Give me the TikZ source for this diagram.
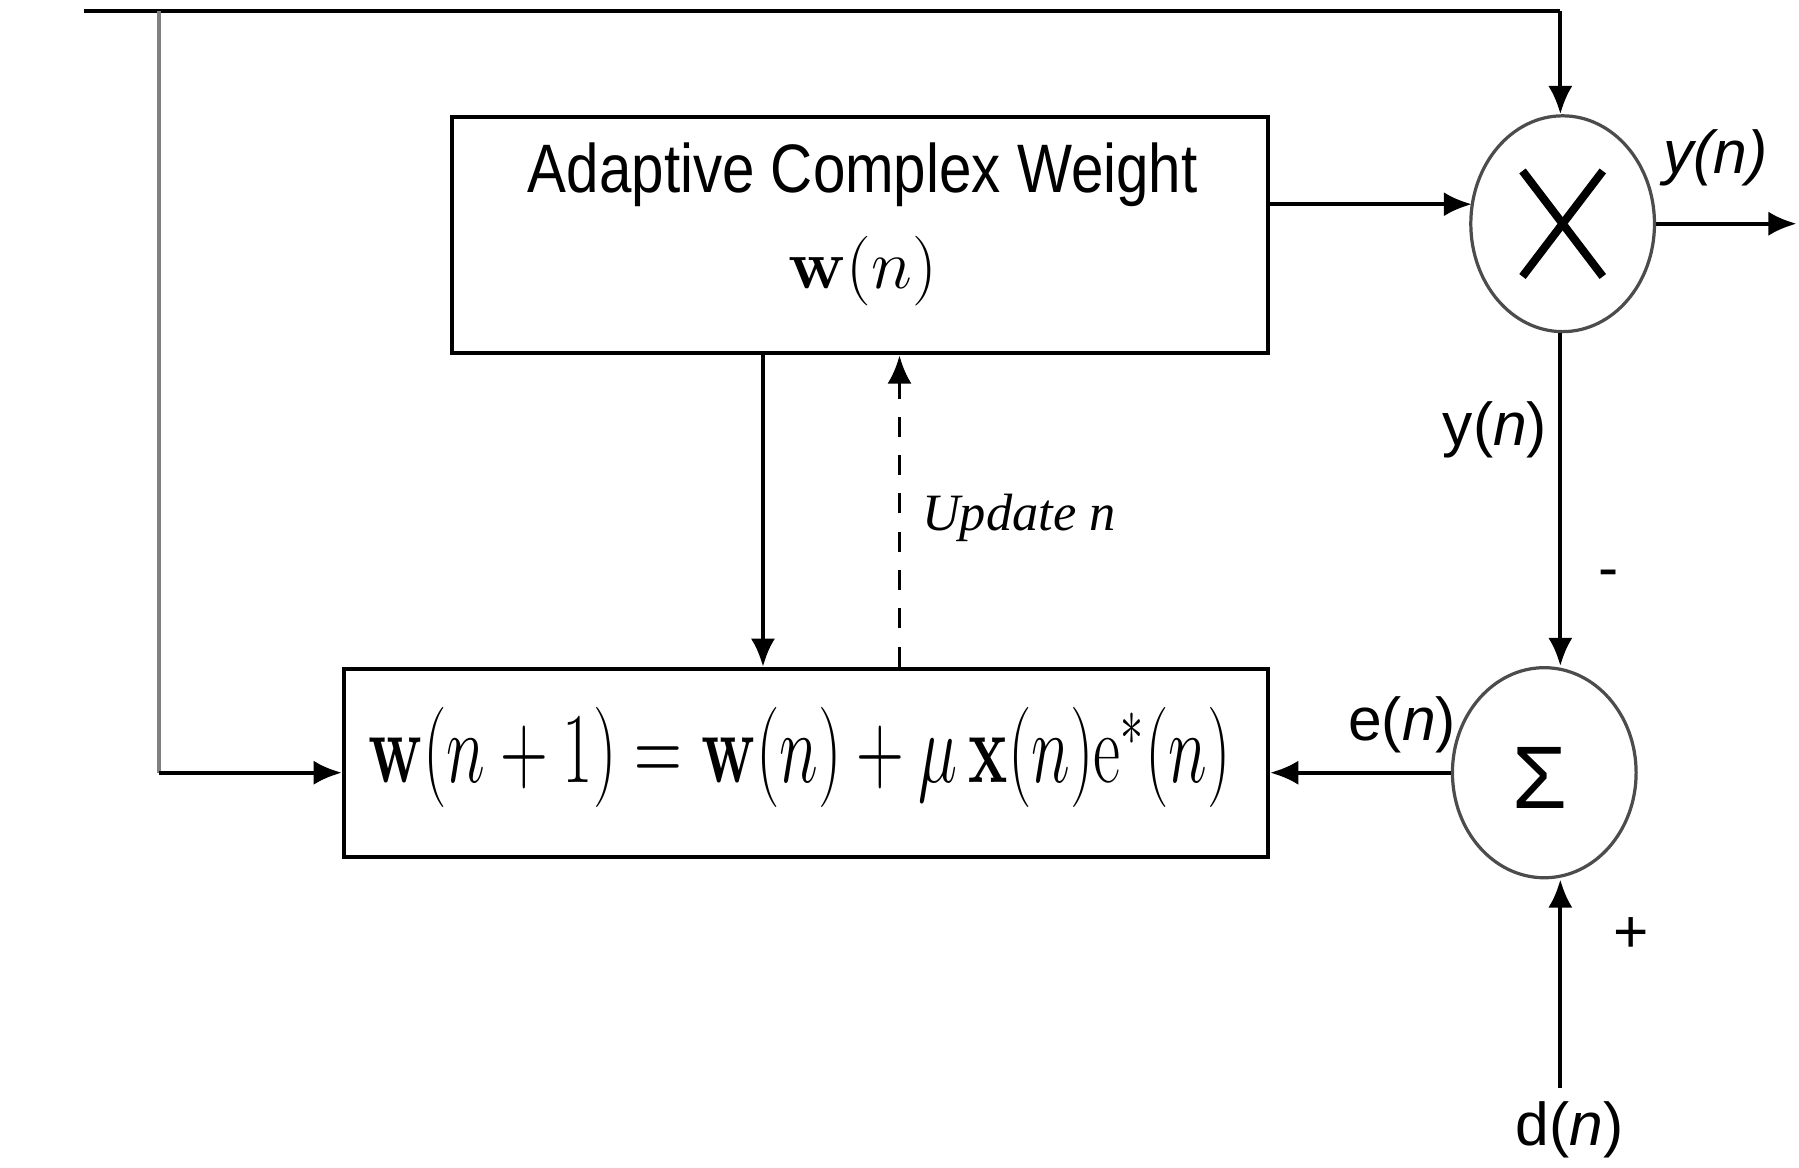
\documentclass[tikz,border=0pt]{standalone}
\usepackage[no-math]{fontspec}
\setmainfont{Liberation Sans}
\newfontfamily\seriffam{Liberation Serif}
\usetikzlibrary{arrows.meta,shapes.geometric}
\begin{document}
\begin{tikzpicture}[x=0.01cm,y=-0.01cm,
  ln/.style={line width=1pt},
  arr/.style={line width=1pt,-{Latex[length=7pt,width=6pt]}},
  blk/.style={draw,line width=1pt,inner sep=0pt},
  junc/.style={draw=black!70,line width=0.8pt,ellipse,inner sep=0pt,minimum width=1.6cm},
  lbl/.style={inner sep=0pt,font=\fontsize{15}{18}\selectfont},
]
\useasboundingbox (0,0) rectangle (1568,1018);
% blocks
\node[blk,minimum width=7.11cm,minimum height=2.06cm] (wbox) at (749.5,205) {};
\node[blk,minimum width=8.05cm,minimum height=1.64cm] (wupd) at (702.5,665) {};
\node[junc,minimum height=1.88cm] (mult) at (1362,195) {};
\node[junc,minimum height=1.83cm] (sig) at (1346,673.5) {};
% texts
\node[inner sep=0pt] (t1) at (752,152) {\fontsize{17}{20}\selectfont\scalebox{0.85}[1]{Adaptive Complex Weight}};
\node[inner sep=0pt] (t2) at (752,236) {\fontsize{17}{20}\selectfont$\mathbf{w}(n)$};
\node[inner sep=0pt] (t3) at (697,660) {\fontsize{24}{28}\selectfont\scalebox{0.66}[1]{$\mathbf{w}(n+1)=\mathbf{w}(n)+\mu\,\mathbf{x}(n)\mathrm{e}^{*}(n)$}};
\node[inner sep=0pt,anchor=west] (upd) at (803,451) {\seriffam\fontsize{13}{15}\selectfont\itshape Update n};
\node[lbl] (yout) at (1495,138) {\itshape y(n)};
\node[lbl] (yside) at (1303,375) {y(\textit{n})};
\node[lbl] (minus) at (1402,505) {-};
\node[lbl] (en) at (1222,632) {e(\textit{n})};
\node[inner sep=0pt] (sigma) at (1342,678) {\fontsize{22}{24}\selectfont Σ};
\node[lbl] (plus) at (1422,815) {+};
\node[lbl] (dn) at (1368,985) {d(\textit{n})};
% multiplier cross
\draw[line width=2pt] ([shift={(-35,-46)}]mult.center) -- ([shift={(35,46)}]mult.center);
\draw[line width=2pt] ([shift={(35,-46)}]mult.center) -- ([shift={(-35,46)}]mult.center);
% coordinates
\coordinate (in) at (73,10);
\coordinate (tap) at (139,10);
\coordinate (corner) at (1360,10);
\coordinate (out) at (1566,195);
\coordinate (dstart) at (1360,948);
\coordinate (c1) at (665,0);
\coordinate (c2) at (784,0);
\coordinate (mulin) at (1283,178);
% connectors
\draw[ln] (in) -- (corner);
\draw[arr] (corner) -- (corner |- mult.north);
\draw[line width=1pt,draw=black!50] (tap) -- (tap |- sig.west);
\draw[arr] (tap |- sig.west) -- (wupd.west |- sig.west);
\draw[arr] (wbox.east |- mulin) -- (mulin);
\draw[arr] (mult.east) -- (out);
\draw[arr] (corner |- mult.south) -- (corner |- sig.north);
\draw[arr] (dstart) -- (dstart |- sig.south);
\draw[arr] (sig.west) -- (wupd.east |- sig.west);
\draw[arr] (c1 |- wbox.south) -- (c1 |- wupd.north);
\draw[line width=0.9pt,dash pattern=on 5pt off 4.5pt,-{Latex[length=7pt,width=6pt]}] (c2 |- wupd.north) -- (c2 |- wbox.south);
\end{tikzpicture}
\end{document}
